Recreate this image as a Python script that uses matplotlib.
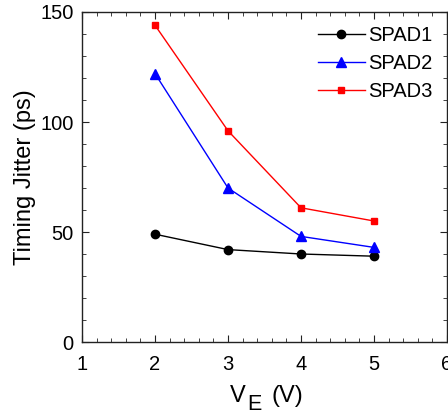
import matplotlib
matplotlib.use("Agg")
import matplotlib.pyplot as plt
from matplotlib.ticker import MultipleLocator

plt.rcParams['font.family'] = ['Liberation Sans', 'DejaVu Sans']

ve = [2, 3, 4, 5]
spad1 = [49, 42, 40, 39]
spad2 = [122, 70, 48, 43]
spad3 = [144, 96, 61, 55]

W, H = 448, 415
fig = plt.figure(figsize=(W / 100, H / 100), dpi=100)
ax = fig.add_axes([82 / W, 1 - 342 / H, 365 / W, 330 / H])

ax.plot(ve, spad1, color='black', marker='o', markersize=6, lw=1, label='SPAD1')
ax.plot(ve, spad2, color='blue', marker='^', markersize=7, lw=1, label='SPAD2')
ax.plot(ve, spad3, color='red', marker='s', markersize=5, lw=1, label='SPAD3')

ax.set_xlim(1, 6)
ax.set_ylim(0, 150)
ax.xaxis.set_major_locator(MultipleLocator(1))
ax.xaxis.set_minor_locator(MultipleLocator(0.2))
ax.yaxis.set_major_locator(MultipleLocator(50))
ax.yaxis.set_minor_locator(MultipleLocator(10))
ax.tick_params(which='both', direction='in', top=True, right=True, labelsize=14.5, color='#222222')
ax.tick_params(which='major', length=5)
ax.tick_params(which='minor', length=3)
ax.tick_params(axis='x', which='major', pad=9)
ax.tick_params(axis='y', which='major', pad=6)
for s in ax.spines.values():
    s.set_linewidth(1)
    s.set_color('#222222')

ax.set_ylabel('Timing Jitter (ps)', fontsize=17, labelpad=3)

# x label: V with a full-size, lowered subscript E
fig.canvas.draw()
r = fig.canvas.get_renderer()
t1 = fig.text(230 / W, 1 - 402 / H, 'V', fontsize=17, va='baseline')
x = t1.get_window_extent(r).x1
t2 = fig.text((x + 1) / W, 1 - 410 / H, 'E', fontsize=15.5, va='baseline')
x = t2.get_window_extent(r).x1
fig.text((x + 10) / W, 1 - 402 / H, '(V)', fontsize=17, va='baseline')

ax.legend(loc='upper right', frameon=False, fontsize=14.5, handlelength=2.3,
          handletextpad=0.2, labelspacing=0.45, borderaxespad=0.3)

fig.savefig('out.png', dpi=100)
